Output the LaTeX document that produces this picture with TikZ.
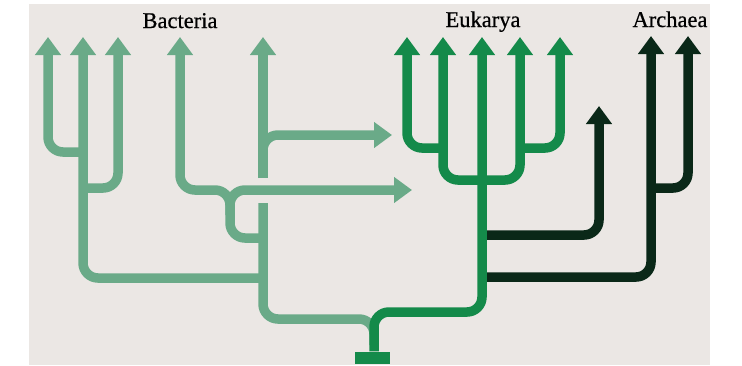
\documentclass[tikz,border=0pt]{standalone}
\usepackage{fontspec}
\setmainfont{Liberation Serif}
\newfontfamily\taxfont{Liberation Serif}[BoldFont={Liberation Serif}, BoldFeatures={FakeBold=0.6}]
\usetikzlibrary{arrows.meta}
\definecolor{bg}{HTML}{EBE7E4}
\definecolor{lgreen}{HTML}{6AAA88}
\definecolor{mgreen}{HTML}{148A4A}
\definecolor{dgreen}{HTML}{0A2818}
\tikzset{
  branch/.style={line width=9.5pt, rounded corners=15pt},
  tipped/.style={-{Triangle[width=25pt,length=18pt]}},
  taxon/.style={font=\taxfont\bfseries\fontsize{22.5}{26}\selectfont, text=black, inner sep=0pt, anchor=base}
}
\begin{document}
\begin{tikzpicture}[x=1pt,y=-1pt]
\useasboundingbox (0,0) rectangle (742,365);
\fill[white] (0,0) rectangle (742,365);
\fill[bg] (29,4) rectangle (710,365);

% labels
\node[taxon] (lbac) at (180,28) {Bacteria};
\node[taxon] (leuk) at (483,27) {Eukarya};
\node[taxon] (larc) at (670,27) {Archaea};

% tips
\coordinate (b1) at (48,37);
\coordinate (b2) at (83,37);
\coordinate (b3) at (118,37);
\coordinate (b4) at (180,37);
\coordinate (b5) at (263,37);
\coordinate (t1) at (392,135);
\coordinate (t2) at (412,190);
\coordinate (e1) at (407,37);
\coordinate (e2) at (443,37);
\coordinate (e3) at (482,37);
\coordinate (e4) at (520,37);
\coordinate (e5) at (560,37);
\coordinate (a0) at (599,106);
\coordinate (a1) at (651,36);
\coordinate (a2) at (688,36);

% root
\node[fill=mgreen, minimum width=35pt, minimum height=12pt, inner sep=0pt] (root) at (372.5,357.5) {};

% Bacteria (light green)
\begin{scope}[lgreen]
\draw[branch,tipped] (83,152) -| (b1);
\draw[branch,tipped] (263,278) -| (b2);
\draw[branch,tipped] (83,188) -| (b3);
\draw[branch,tipped] (263,238) -| (230,190) -| (b4);
\draw[branch,tipped] (230,215) |- (t2);
\draw[branch,tipped] (263,178) -- (b5);
\draw[branch,tipped] (263,165) |- (t1);
\draw[branch] (263,203) |- (374,319) -- (374,345);
\end{scope}

% Archaea (dark green)
\begin{scope}[dgreen]
\draw[branch,tipped] (482,235) -| (a0);
\draw[branch,tipped] (482,277) -| (a1);
\draw[branch,tipped] (651,188) -| (a2);
\end{scope}

% Eukarya (mid green)
\begin{scope}[mgreen]
\draw[branch,tipped] (root.north -| 374,0) -- (374,312) -- (482,312) -- (e3);
\draw[branch,tipped] (443,148) -| (e1);
\draw[branch,tipped] (482,180) -| (e2);
\draw[branch,tipped] (482,180) -| (e4);
\draw[branch,tipped] (520,148) -| (e5);
\end{scope}
\end{tikzpicture}
\end{document}
